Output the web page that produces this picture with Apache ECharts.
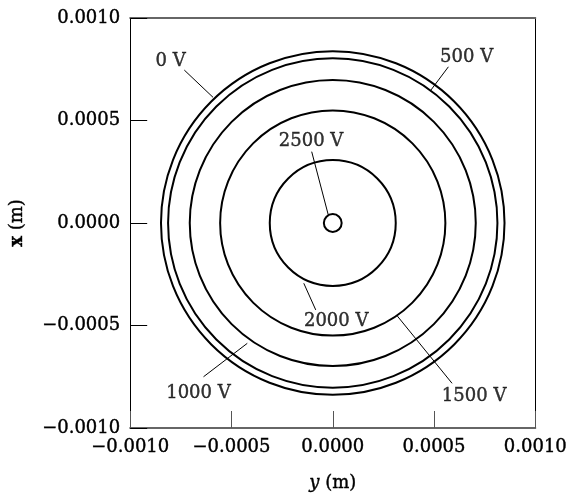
<!DOCTYPE html>
<html>
<head>
<meta charset="utf-8">
<script src="https://cdn.jsdelivr.net/npm/echarts@6/dist/echarts.min.js"></script>
<style>html,body{margin:0;padding:0;background:#fff;}#c{width:570px;height:499px;}</style>
</head>
<body>
<div id="c"></div>
<script>
// Equipotential contour radii (m)
const contourNames = ['0 V', '500 V', '1000 V', '1500 V', '2000 V', '2500 V'];
const contourRadii = [0.000848, 0.000813, 0.000706, 0.000556, 0.000311, 0.000044];
// Label anchor points (y, x) in metres
const labelNames = ['0 V', '500 V', '2500 V', '2000 V', '1000 V', '1500 V'];
const labelPos = [[-0.000800, 0.000788], [0.000661, 0.000807], [-0.000107, 0.000400],
                  [0.000017, -0.000481], [-0.000663, -0.000829], [0.000698, -0.000844]];
// Leader lines: [from label, to contour]
const leaderFrom = [[-0.000733, 0.000746], [0.000571, 0.000762], [-0.000104, 0.000348],
                    [-0.000084, -0.000424], [-0.000638, -0.000750], [0.000589, -0.000782]];
const leaderTo = [[-0.000591, 0.000613], [0.000482, 0.000645], [-0.000022, 0.000039],
                  [-0.000143, -0.000294], [-0.000422, -0.000587], [0.000319, -0.000454]];
const axisMin = -0.0010, axisMax = 0.0010, axisStep = 0.0005;

const FONT = 'DejaVu Serif';
const TXT = {fontFamily: FONT, fontSize: 18, color: '#000', textBorderColor: '#000', textBorderWidth: 0.4};
const fmt = v => (Math.abs(v) < 1e-12 ? 0 : v).toFixed(4).replace('-', '\u2212');
const chart = echarts.init(document.getElementById('c'), null, {renderer: 'canvas'});
const tickStyle = (c) => ({show: true, inside: true, length: 17, lineStyle: {color: c, width: 1}});
chart.setOption({
  animation: false,
  backgroundColor: '#fff',
  grid: {left: 128, right: 32, top: 18, bottom: 71, containLabel: false},
  xAxis: [{
    type: 'value', min: axisMin, max: axisMax, interval: axisStep, position: 'bottom',
    axisLine: {show: true, onZero: false, lineStyle: {color: '#666', width: 2}},
    axisTick: tickStyle('#555'),
    splitLine: {show: false},
    axisLabel: Object.assign({formatter: fmt, margin: 10, showMinLabel: true, showMaxLabel: true}, TXT),
    name: '{it|y} (m)', nameLocation: 'middle', nameGap: 46,
    nameTextStyle: Object.assign({rich: {it: Object.assign({fontStyle: 'italic'}, TXT)}}, TXT)
  }, {
    type: 'value', min: axisMin, max: axisMax, interval: axisStep, position: 'top',
    axisLine: {show: true, onZero: false, lineStyle: {color: '#666', width: 2}},
    axisTick: {show: false}, axisLabel: {show: false}, splitLine: {show: false}
  }],
  yAxis: [{
    type: 'value', min: axisMin, max: axisMax, interval: axisStep, position: 'left',
    axisLine: {show: true, onZero: false, lineStyle: {color: '#000', width: 1}},
    axisTick: tickStyle('#000'),
    splitLine: {show: false},
    axisLabel: Object.assign({formatter: fmt, margin: 10}, TXT),
    name: '{b|x} (m)', nameLocation: 'middle', nameGap: 104,
    nameTextStyle: Object.assign({rich: {b: Object.assign({fontWeight: 'bold'}, TXT)}}, TXT)
  }, {
    type: 'value', min: axisMin, max: axisMax, interval: axisStep, position: 'right',
    axisLine: {show: true, onZero: false, lineStyle: {color: '#000', width: 1}},
    axisTick: {show: false}, axisLabel: {show: false}, splitLine: {show: false}
  }],
  series: [{
    type: 'custom',
    xAxisIndex: 0, yAxisIndex: 0,
    data: contourRadii.map((r, i) => ({name: contourNames[i], value: [r, 0]})),
    renderItem: function (params, api) {
      const c = api.coord([0, 0]);
      const r = api.size([api.value(0), 0])[0];
      return {type: 'circle', shape: {cx: c[0], cy: c[1], r: r},
        style: {fill: 'none', stroke: '#000', lineWidth: 2}};
    },
    silent: true, z: 2
  }, {
    type: 'lines', coordinateSystem: 'cartesian2d',
    xAxisIndex: 0, yAxisIndex: 0,
    data: leaderFrom.map((p, i) => ({coords: [p, leaderTo[i]]})),
    lineStyle: {color: '#000', width: 1, opacity: 1},
    silent: true, z: 3
  }, {
    type: 'scatter', xAxisIndex: 0, yAxisIndex: 0,
    symbolSize: 0,
    data: labelPos.map((p, i) => ({name: labelNames[i], value: p})),
    label: Object.assign({show: true, position: 'inside', formatter: p => p.name}, TXT),
    silent: true, z: 4
  }]
});
</script>
</body>
</html>
